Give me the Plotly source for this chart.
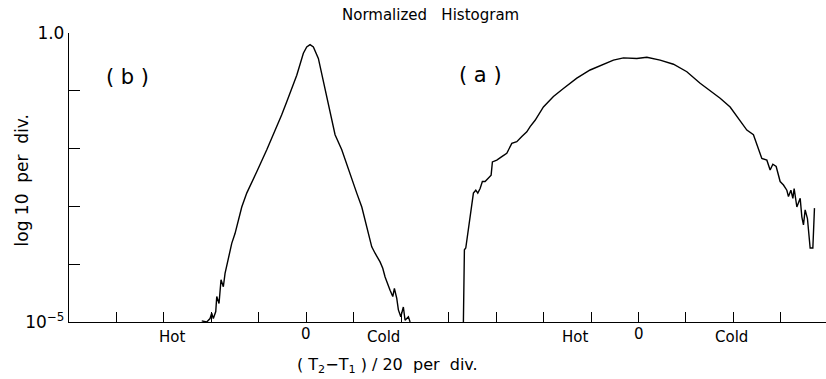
import plotly.graph_objects as go

# Curve (b): x in divisions, y = log10(normalized count)
b_x = [2.797, 2.902, 2.972, 3.007, 3.041, 3.092, 3.113, 3.161, 3.203, 3.252, 3.288, 3.357,
       3.429, 3.498, 3.568, 3.640, 3.745, 3.850, 3.956, 4.167, 4.306, 4.377, 4.480, 4.588, 4.799,
       4.938, 5.009, 5.079, 5.149, 5.254, 5.360, 5.465, 5.606, 5.747, 5.958, 6.063, 6.169,
       6.274, 6.379, 6.449, 6.554, 6.611, 6.660, 6.765, 6.822, 6.856, 6.906, 6.940, 6.991,
       7.045, 7.081, 7.151, 7.187]
b_log = [-4.98, -5.0, -4.94, -4.85, -4.94, -4.82, -4.56, -4.68, -4.27, -4.39, -4.16, -3.93,
         -3.64, -3.47, -3.24, -3.01, -2.77, -2.57, -2.40, -2.02, -1.76, -1.62, -1.42, -1.19, -0.73,
         -0.35, -0.24, -0.20, -0.24, -0.44, -0.84, -1.25, -1.76, -2.02, -2.54, -2.77, -3.01,
         -3.35, -3.70, -3.81, -3.96, -4.07, -4.22, -4.45, -4.56, -4.42, -4.59, -4.79, -4.91,
         -4.74, -4.97, -4.91, -5.0]

# Curve (a)
a_x = [8.310, 8.331, 8.360, 8.402, 8.451, 8.487, 8.521, 8.571, 8.613, 8.662, 8.710, 8.767,
       8.837, 8.894, 8.921, 9.014, 9.119, 9.224, 9.330, 9.435, 9.541, 9.646, 9.716, 9.821,
       9.996, 10.207, 10.417, 10.700, 10.980, 11.260, 11.471, 11.682, 11.964, 12.175, 12.455,
       12.736, 13.018, 13.298, 13.578, 13.720, 13.930, 14.141, 14.282, 14.421, 14.527, 14.598,
       14.704, 14.773, 14.830, 14.900, 14.984, 15.054, 15.125, 15.159, 15.210, 15.252, 15.279,
       15.336, 15.406, 15.441, 15.475, 15.511, 15.559, 15.616, 15.673, 15.707]
a_log = [-5.0, -3.75, -3.72, -3.47, -3.18, -3.06, -2.77, -2.72, -2.77, -2.69, -2.57, -2.57,
         -2.51, -2.46, -2.23, -2.20, -2.14, -2.08, -1.91, -1.88, -1.79, -1.71, -1.62, -1.51,
         -1.28, -1.10, -0.96, -0.78, -0.64, -0.55, -0.47, -0.43, -0.44, -0.42, -0.47,
         -0.54, -0.67, -0.87, -1.04, -1.13, -1.28, -1.51, -1.68, -1.76, -1.99, -2.17,
         -2.20, -2.37, -2.27, -2.31, -2.57, -2.63, -2.72, -2.83, -2.72, -2.86, -2.69,
         -3.01, -2.86, -3.18, -3.32, -3.06, -3.21, -3.72, -3.72, -3.03]

y_tickvals = [-5, -4, -3, -2, -1, 0]
y_ticktext = ["10<sup>\u22125</sup>", "", "", "", "", "1.0"]
x_tickvals = list(range(1, 16))

FONT = "DejaVu Sans"

fig = go.Figure()
for xs, ys in [(b_x, b_log), (a_x, a_log)]:
    fig.add_trace(go.Scatter(x=xs, y=ys, mode="lines",
                             line=dict(color="black", width=1.4),
                             showlegend=False, hoverinfo="skip"))

fig.update_layout(
    width=826, height=379,
    margin=dict(l=69, r=0, t=33, b=57),
    paper_bgcolor="white", plot_bgcolor="white",
    font=dict(family=FONT, color="black"),
    xaxis=dict(range=[0, 15.95], showgrid=False, zeroline=False, showline=True,
               linecolor="black", linewidth=1.3, ticks="inside", ticklen=10,
               tickwidth=1.3, tickcolor="black", tickvals=x_tickvals,
               showticklabels=False),
    yaxis=dict(range=[-5, 0], showgrid=False, zeroline=False, showline=True,
               linecolor="black", linewidth=1.3, ticks="inside", ticklen=11,
               tickwidth=1.3, tickcolor="black", tickvals=y_tickvals,
               ticktext=y_ticktext, tickfont=dict(size=17, family=FONT)),
)

def ann(x, y, text, size=14, xref="x", yref="paper", **kw):
    fig.add_annotation(x=x, y=y, xref=xref, yref=yref, text=text, showarrow=False,
                       xanchor="center", yanchor="middle",
                       font=dict(size=size, family=FONT, color="black"), **kw)

ann(0.477, 1.062, "Normalized   Histogram", 15, xref="paper")
ann(1.24, -0.76, "( b )", 21, yref="y")
ann(8.68, -0.73, "( a )", 21, yref="y")
ann(2.17, -0.052, "Hot", 15)
ann(5.0, -0.042, "0", 15)
ann(6.62, -0.052, "Cold", 15)
ann(10.66, -0.052, "Hot", 15)
ann(12.0, -0.042, "0", 15)
ann(13.95, -0.052, "Cold", 15)
ann(0.421, -0.15, "( T<sub>2</sub>\u2212T<sub>1</sub> ) / 20  per  div.", 16, xref="paper")
ann(-0.062, 0.49, "log 10  per  div.", 17, xref="paper", textangle=-90)

fig.write_html("out.html")
